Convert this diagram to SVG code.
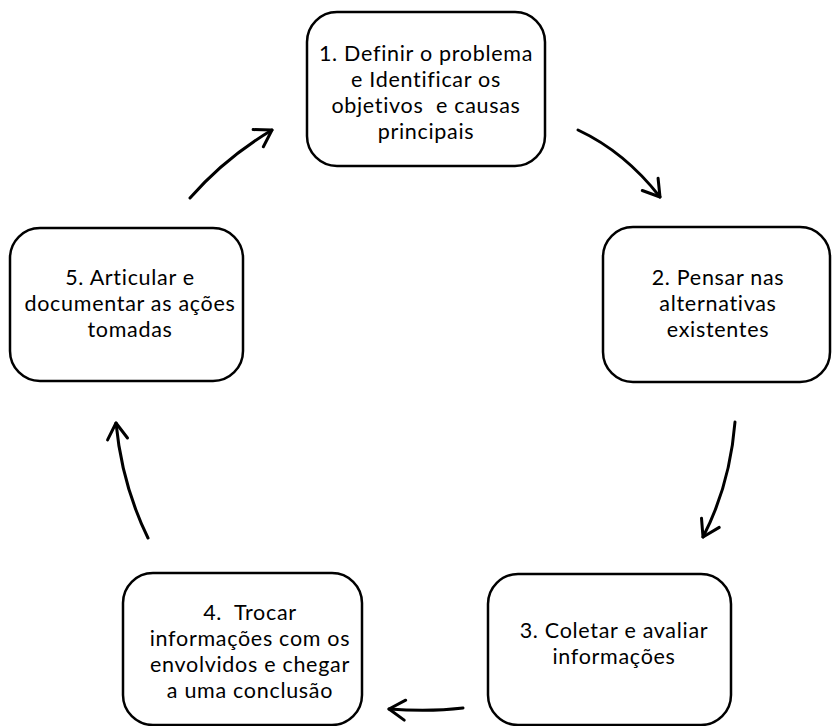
<svg xmlns="http://www.w3.org/2000/svg" width="832" height="726" viewBox="0 0 832 726">
<style>
.box{fill:#fff;stroke:#000;stroke-width:2.5}
.t{font-family:Lato,"Open Sans","Liberation Sans",sans-serif;font-size:21.5px;letter-spacing:0.7px;font-variant-ligatures:none;fill:#000;text-anchor:middle}
.c{fill:none;stroke:#000;stroke-width:3;stroke-linecap:round}
</style>
<defs>
<marker id="ah" markerUnits="userSpaceOnUse" markerWidth="40" markerHeight="40" refX="0" refY="0" viewBox="-20 -20 40 40" orient="auto" overflow="visible">
<path d="M-16,-10 L0,0 L-16,10" fill="none" stroke="#000" stroke-width="3" stroke-linecap="round" stroke-linejoin="round"/>
</marker>
</defs>
<rect width="832" height="726" fill="#fff"/>
<g id="connectors">
<path class="c" d="M190,198 Q225,158 272,130" marker-end="url(#ah)"/>
<path class="c" d="M578,130 Q625,152 660,197" marker-end="url(#ah)"/>
<path class="c" d="M735,422 Q730,485 703,537" marker-end="url(#ah)"/>
<path class="c" d="M463,708 Q430,712 389,709" marker-end="url(#ah)"/>
<path class="c" d="M148,538 Q122,485 116,423" marker-end="url(#ah)"/>
</g>
<g id="node1">
<rect class="box" x="307" y="12" width="238" height="154" rx="30"/>
<text class="t" x="426" y="61">1. Definir o problema</text>
<text class="t" x="426" y="87">e Identificar os</text>
<text class="t" x="426" y="113" xml:space="preserve">objetivos  e causas</text>
<text class="t" x="426" y="139">principais</text>
</g>
<g id="node2">
<rect class="box" x="603" y="227" width="227" height="155" rx="30"/>
<text class="t" x="718" y="285">2. Pensar nas</text>
<text class="t" x="718" y="311">alternativas</text>
<text class="t" x="718" y="337">existentes</text>
</g>
<g id="node3">
<rect class="box" x="488" y="574" width="243" height="151" rx="30"/>
<text class="t" x="614" y="638">3. Coletar e avaliar</text>
<text class="t" x="614" y="664">informações</text>
</g>
<g id="node4">
<rect class="box" x="123" y="573" width="239" height="152" rx="30"/>
<text class="t" x="250" y="620" xml:space="preserve">4.  Trocar</text>
<text class="t" x="250" y="646">informações com os</text>
<text class="t" x="250" y="672">envolvidos e chegar</text>
<text class="t" x="250" y="698">a uma conclusão</text>
</g>
<g id="node5">
<rect class="box" x="10" y="228" width="233" height="153" rx="30"/>
<text class="t" x="130" y="285">5. Articular e</text>
<text class="t" x="130" y="311">documentar as ações</text>
<text class="t" x="130" y="337">tomadas</text>
</g>
</svg>
